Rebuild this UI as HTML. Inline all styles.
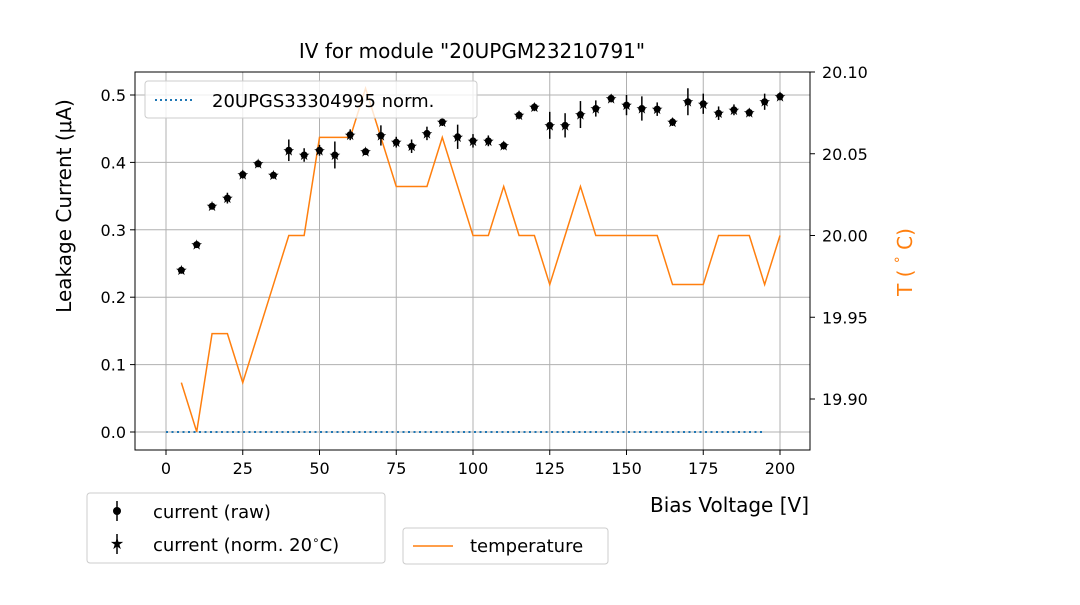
<!DOCTYPE html>
<html><head><meta charset="utf-8"><style>
body{margin:0;background:#fff;}
svg text{font-family:"DejaVu Sans","Liberation Sans",sans-serif;}
</style></head><body>
<svg id="chart" width="1080" height="600" viewBox="0 0 1080 600" xmlns="http://www.w3.org/2000/svg">
<rect width="1080" height="600" fill="#fff"/>
<g id="grid"></g>
<g id="series"></g>
<rect x="135" y="72" width="675" height="378" fill="none" stroke="#000" stroke-width="1"/>
<g id="axes"></g>
<text x="472" y="58" font-size="20" text-anchor="middle">IV for module "20UPGM23210791"</text>
<text x="809" y="512" font-size="20" text-anchor="end">Bias Voltage [V]</text>
<text transform="translate(71,206) rotate(-90)" font-size="20" text-anchor="middle">Leakage Current (μA)</text>
<text transform="translate(912,262) rotate(-90)" font-size="20" fill="#ff7f0e" text-anchor="middle">T ( <tspan font-size="14" dy="-7">°</tspan><tspan dy="7"> C)</tspan></text>
<g>
<rect x="145" y="81" width="332" height="37" rx="3" fill="#fff" fill-opacity="0.8" stroke="#ccc"/>
<line x1="155" y1="100" x2="195" y2="100" stroke="#1f77b4" stroke-width="2" stroke-dasharray="2,3"/>
<text x="212" y="107" font-size="18">20UPGS33304995 norm.</text>
</g>
<g>
<rect x="87" y="493" width="298" height="70" rx="3" fill="#fff" stroke="#ccc"/>
<line x1="117" y1="501" x2="117" y2="521" stroke="#000" stroke-width="1.5"/><circle cx="117" cy="511" r="4" fill="#000"/>
<text x="153" y="518" font-size="18">current (raw)</text>
<line x1="117" y1="534" x2="117" y2="554" stroke="#000" stroke-width="1.5"/><text x="117" y="549" font-size="16" text-anchor="middle">★</text>
<text x="153" y="551" font-size="18">current (norm. 20<tspan font-size="12" dy="-7">∘</tspan><tspan dy="7">C)</tspan></text>
</g>
<g>
<rect x="403" y="528" width="205" height="36" rx="3" fill="#fff" stroke="#ccc"/>
<line x1="413" y1="546" x2="453" y2="546" stroke="#ff7f0e" stroke-width="1.5"/>
<text x="470" y="552" font-size="18">temperature</text>
</g>
</svg>
<script>
const voltages=[5,10,15,20,25,30,35,40,45,50,55,60,65,70,75,80,85,90,95,100,105,110,115,120,125,130,135,140,145,150,155,160,165,170,175,180,185,190,195,200];
const current=[0.24,0.278,0.335,0.347,0.382,0.398,0.381,0.418,0.411,0.418,0.411,0.441,0.416,0.44,0.43,0.424,0.443,0.46,0.438,0.432,0.432,0.425,0.47,0.482,0.455,0.455,0.471,0.48,0.495,0.485,0.48,0.479,0.46,0.49,0.487,0.473,0.478,0.474,0.49,0.498];
const currentErr=[0.005,0.005,0.005,0.008,0.006,0.005,0.005,0.016,0.01,0.008,0.02,0.008,0.005,0.015,0.008,0.01,0.01,0.006,0.018,0.01,0.008,0.006,0.006,0.006,0.02,0.018,0.02,0.012,0.006,0.015,0.018,0.01,0.006,0.02,0.015,0.01,0.008,0.006,0.012,0.006];
const temperature=[19.91,19.88,19.94,19.94,19.91,19.94,19.97,20.00,20.00,20.06,20.06,20.06,20.09,20.06,20.03,20.03,20.03,20.06,20.03,20.00,20.00,20.03,20.00,20.00,19.97,20.00,20.03,20.00,20.00,20.00,20.00,20.00,19.97,19.97,19.97,20.00,20.00,20.00,19.97,20.00];
const normVoltages=[0,5,10,15,20,25,30,35,40,45,50,55,60,65,70,75,80,85,90,95,100,105,110,115,120,125,130,135,140,145,150,155,160,165,170,175,180,185,190,195];
const xTicks=[0,25,50,75,100,125,150,175,200];
const yTicks=[0,0.1,0.2,0.3,0.4,0.5];
const y2Ticks=[19.90,19.95,20.00,20.05,20.10];
const NS="http://www.w3.org/2000/svg";
const X=v=>166+v*(780-166)/200;
const Y=v=>432-v*(432-95)/0.5;
const Y2=v=>72+(20.10-v)*(399-72)/0.2;
function mk(t,a,p){const e=document.createElementNS(NS,t);for(const k in a)e.setAttribute(k,a[k]);p.appendChild(e);return e;}
const grid=document.getElementById('grid'),axes=document.getElementById('axes'),ser=document.getElementById('series');
xTicks.forEach(t=>{const g=mk('line',{x1:X(t),x2:X(t),y1:72,y2:450,stroke:'#b0b0b0','stroke-width':1},grid);

mk('line',{x1:X(t),x2:X(t),y1:450,y2:455,stroke:'#000'},axes);
const tx=mk('text',{x:X(t),y:474,'font-size':16,'text-anchor':'middle'},axes);tx.textContent=t;
});
yTicks.forEach(t=>{const g=mk('line',{x1:135,x2:810,y1:Y(t),y2:Y(t),stroke:'#b0b0b0','stroke-width':1},grid);

mk('line',{x1:130,x2:135,y1:Y(t),y2:Y(t),stroke:'#000'},axes);
const tx=mk('text',{x:126,y:Y(t)+6,'font-size':16,'text-anchor':'end'},axes);tx.textContent=t.toFixed(1);
});
y2Ticks.forEach(t=>{mk('line',{x1:810,x2:815,y1:Y2(t),y2:Y2(t),stroke:'#000'},axes);
const tx=mk('text',{x:822,y:Y2(t)+6,'font-size':16},axes);tx.textContent=t.toFixed(2);
});
const nl=mk('polyline',{points:normVoltages.map(v=>X(v)+','+Y(0)).join(' '),fill:'none',stroke:'#1f77b4','stroke-width':2,'stroke-dasharray':'2,3.5'},ser);

const tl=mk('polyline',{points:voltages.map((v,i)=>X(v)+','+Y2(temperature[i])).join(' '),fill:'none',stroke:'#ff7f0e','stroke-width':1.5},ser);

voltages.forEach((v,i)=>{const e=mk('line',{x1:X(v),x2:X(v),y1:Y(current[i]-currentErr[i]),y2:Y(current[i]+currentErr[i]),stroke:'#000','stroke-width':1.5},ser);

const c=mk('circle',{cx:X(v),cy:Y(current[i]),r:3.5,fill:'#000'},ser);

const s=mk('text',{x:X(v),y:Y(current[i])+5,'font-size':14,'text-anchor':'middle'},ser);s.textContent='★';
});
</script>
</body></html>
